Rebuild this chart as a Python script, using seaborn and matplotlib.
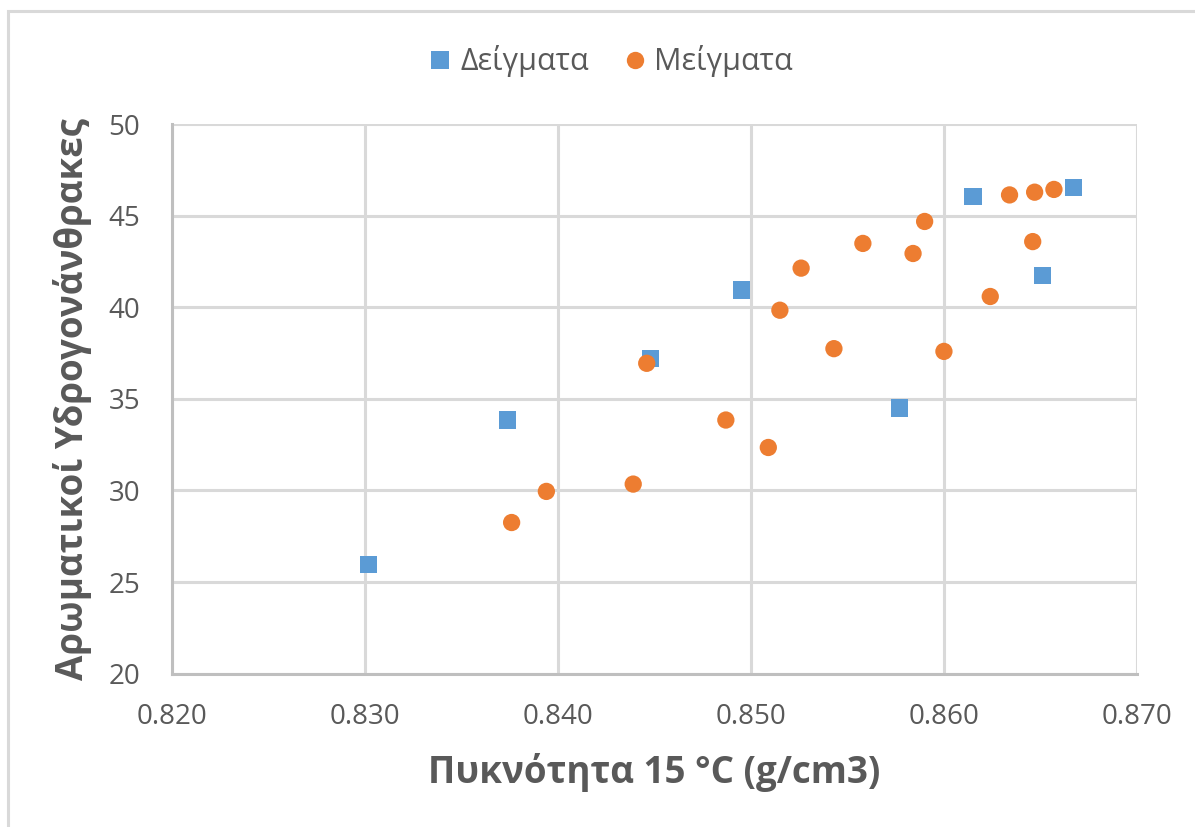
import matplotlib
matplotlib.use("Agg")
import matplotlib.pyplot as plt
import seaborn as sns
import pandas as pd
from matplotlib.lines import Line2D
from matplotlib.patches import Rectangle

# Density at 15 °C (g/cm3) and aromatic hydrocarbons content
samples_density = [0.8302, 0.8374, 0.8448, 0.8495, 0.8577, 0.8615, 0.8651, 0.8667]
samples_aromatics = [25.95, 33.85, 37.2, 40.95, 34.5, 46.05, 41.75, 46.55]

blends_density = [0.8376, 0.8394, 0.8439, 0.8446, 0.8487, 0.8509, 0.8515, 0.8526,
                  0.8543, 0.8558, 0.8584, 0.8590, 0.8600, 0.8624, 0.8634, 0.8646,
                  0.8647, 0.8657]
blends_aromatics = [28.25, 29.95, 30.35, 36.95, 33.85, 32.35, 39.85, 42.15,
                    37.75, 43.5, 42.95, 44.7, 37.6, 40.6, 46.15, 43.6,
                    46.3, 46.45]

series_names = ["Δείγματα", "Μείγματα"]
x_ticks = [0.820, 0.830, 0.840, 0.850, 0.860, 0.870]
y_ticks = [20, 25, 30, 35, 40, 45, 50]
x_label = "Πυκνότητα 15 °C (g/cm3)"
y_label = "Αρωματικοί Υδρογονάνθρακες"

df = pd.DataFrame({
    "density": samples_density + blends_density,
    "aromatics": samples_aromatics + blends_aromatics,
    "group": [series_names[0]] * len(samples_density) + [series_names[1]] * len(blends_density),
})

blue = "#5B9BD5"
orange = "#ED7D31"
text_grey = "#595959"
grid_grey = "#D9D9D9"

sns.set_theme(style="white")
plt.rcParams["font.family"] = ["Open Sans", "DejaVu Sans"]

fig = plt.figure(figsize=(11.95, 8.27), dpi=100)
ax = fig.add_axes([0.1439, 0.1856, 0.8075, 0.6639])

sns.scatterplot(
    data=df, x="density", y="aromatics", hue="group", style="group",
    palette={series_names[0]: blue, series_names[1]: orange},
    markers={series_names[0]: "s", series_names[1]: "o"},
    hue_order=series_names, style_order=series_names,
    s=155, linewidth=0, ax=ax, legend=False, zorder=3,
)

ax.set_xlim(0.820, 0.870)
ax.set_ylim(20, 50)
ax.set_xticks(x_ticks)
ax.set_xticklabels([f"{v:.3f}" for v in x_ticks])
ax.set_yticks(y_ticks)
ax.set_yticklabels([str(v) for v in y_ticks])
ax.tick_params(axis="both", length=0, labelsize=20, labelcolor=text_grey)
ax.tick_params(axis="x", pad=21)
ax.tick_params(axis="y", pad=23)

ax.grid(True, color=grid_grey, linewidth=2.2, zorder=0)
ax.set_axisbelow(True)
for side in ("top", "right"):
    ax.spines[side].set_visible(False)
for side in ("left", "bottom"):
    ax.spines[side].set_color("#BFBFBF")
    ax.spines[side].set_linewidth(2.2)

ax.set_xlabel(x_label, fontsize=26.5, fontweight="bold", color=text_grey, labelpad=16)
ax.set_ylabel(y_label, fontsize=26.5, fontweight="bold", color=text_grey, labelpad=12)

handles = [
    Line2D([], [], marker="s", linestyle="none", markersize=12.5, markerfacecolor=blue,
           markeredgewidth=0, label=series_names[0]),
    Line2D([], [], marker="o", linestyle="none", markersize=12.5, markerfacecolor=orange,
           markeredgewidth=0, label=series_names[1]),
]
fig.legend(handles=handles, loc="center", bbox_to_anchor=(0.5096, 0.926), ncol=2,
           frameon=False, fontsize=22, labelcolor=text_grey, handletextpad=0.15,
           columnspacing=1.0, handlelength=1.0)

# Chart area border
fig.patches.append(Rectangle((8 / 1195, -0.05), 1.2, 1 - 11 / 827 + 0.05,
                             transform=fig.transFigure, fill=False,
                             edgecolor=grid_grey, linewidth=2.2))

fig.savefig("out.png", dpi=100, facecolor="white")
